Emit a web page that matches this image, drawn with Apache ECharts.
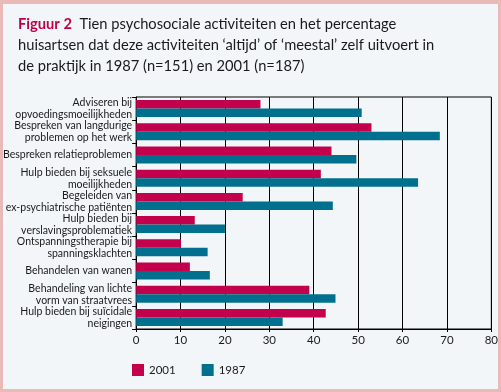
<!DOCTYPE html>
<html>
<head>
<meta charset="utf-8">
<script src="https://cdn.jsdelivr.net/npm/echarts@6/dist/echarts.min.js"></script>
<style>html,body{margin:0;padding:0;background:#e9bab6;}#c{width:501px;height:392px;}</style>
</head>
<body>
<div id="c"></div>
<script>
var categories = [
  "Adviseren bij\nopvoedingsmoeilijkheden",
  "Bespreken van langdurige\nproblemen op het werk",
  "Bespreken relatieproblemen",
  "Hulp bieden bij seksuele\nmoeilijkheden",
  "Begeleiden van\nex-psychiatrische patiënten",
  "Hulp bieden bij\nverslavingsproblematiek",
  "Ontspanningstherapie bij\nspanningsklachten",
  "Behandelen van wanen",
  "Behandeling van lichte\nvorm van straatvrees",
  "Hulp bieden bij suïcidale\nneigingen"
];
var values2001 = [28.0, 53.0, 44.0, 41.6, 24.0, 13.2, 10.1, 12.1, 39.0, 42.7];
var values1987 = [50.8, 68.4, 49.6, 63.5, 44.3, 20.0, 16.1, 16.6, 44.9, 33.0];
var xTicks = [0, 10, 20, 30, 40, 50, 60, 70, 80];
var seriesNames = ["2001", "1987"];

var FONT = "Lato, 'Open Sans', sans-serif";
var chart = echarts.init(document.getElementById('c'), null, {renderer: 'canvas'});
chart.setOption({
  backgroundColor: '#e9bab6',
  animation: false,
  graphic: [{
    type: 'rect', left: 3, top: 4, z: -10,
    shape: {width: 495, height: 385},
    style: {fill: '#f2f6f8'}
  }],
  title: {
    left: 13, top: 9,
    text: '{b|Figuur 2}  Tien psychosociale activiteiten en het percentage\nhuisartsen dat deze activiteiten ‘altijd’ of ‘meestal’ zelf uitvoert in\nde praktijk in 1987 (n=151) en 2001 (n=187)',
    textStyle: {
      fontFamily: FONT, fontSize: 14.7, fontWeight: 'normal', color: '#1a1a1a', lineHeight: 21,
      rich: {b: {fontFamily: FONT, fontSize: 14.7, fontWeight: 'bold', color: '#c0004a', lineHeight: 21}}
    }
  },
  legend: {
    left: 127, top: 359,
    icon: 'rect', itemWidth: 12, itemHeight: 12, itemGap: 26,
    data: seriesNames,
    textStyle: {fontFamily: FONT, fontSize: 11.5, color: '#1a1a1a'}
  },
  grid: {left: 131, right: 9, top: 97, bottom: 63, show: true, borderColor: '#000', borderWidth: 1, containLabel: false},
  xAxis: {
    type: 'value', min: xTicks[0], max: xTicks[xTicks.length - 1], interval: 10,
    axisLine: {show: true, lineStyle: {color: '#000'}},
    axisTick: {show: true, length: 3, lineStyle: {color: '#000'}},
    splitLine: {show: true, lineStyle: {color: '#000', width: 1}},
    axisLabel: {fontFamily: FONT, fontSize: 11.5, color: '#1a1a1a', margin: 5}
  },
  yAxis: {
    type: 'category', inverse: true, data: categories,
    axisLine: {show: true, lineStyle: {color: '#000'}},
    axisTick: {show: true, length: 4, interval: 0, lineStyle: {color: '#000'}},
    axisLabel: {interval: 0, hideOverlap: false, fontFamily: FONT, fontSize: 10.5, color: '#1a1a1a', lineHeight: 12, margin: 4, align: 'right'}
  },
  series: [
    {name: seriesNames[0], type: 'bar', data: values2001, barWidth: 8.5, barGap: '0%', itemStyle: {color: '#c2004b'}},
    {name: seriesNames[1], type: 'bar', data: values1987, barWidth: 8.5, barGap: '0%', itemStyle: {color: '#00708e'}}
  ]
});
</script>
</body>
</html>
